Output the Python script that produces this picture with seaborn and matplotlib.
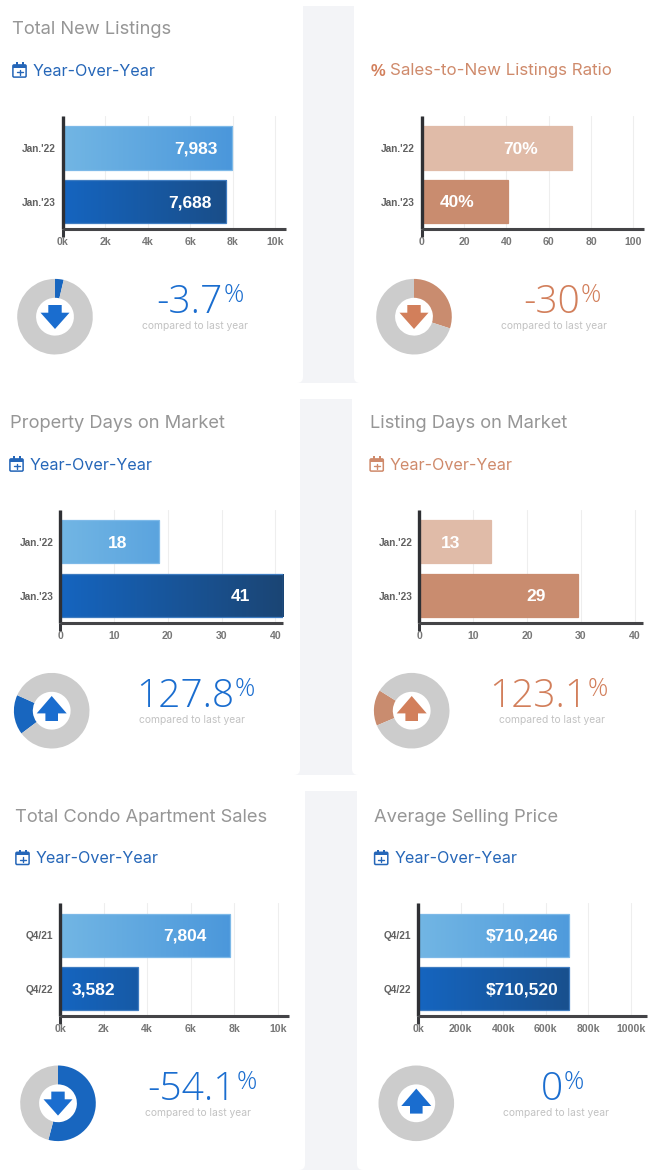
import numpy as np
import pandas as pd
import matplotlib
matplotlib.use("Agg")
import matplotlib.pyplot as plt
from matplotlib.colors import LinearSegmentedColormap
from matplotlib.patches import FancyBboxPatch, Polygon, Rectangle
import seaborn as sns

# ---------- data ----------
titles = ["Total New Listings", "", "Property Days on Market",
          "Listing Days on Market", "Total Condo Apartment Sales", "Average Selling Price"]
subtitles = ["Year-Over-Year", "Sales-to-New Listings Ratio", "Year-Over-Year",
             "Year-Over-Year", "Year-Over-Year", "Year-Over-Year"]
periods_jan = ["Jan.'22", "Jan.'23"]
periods_q4 = ["Q4/21", "Q4/22"]
categories = [periods_jan, periods_jan, periods_jan, periods_jan, periods_q4, periods_q4]
values_listings = [7983, 7688]
values_ratio = [70.9, 40.9]
values_property_days = [18.3, 41.5]
values_listing_days = [13.3, 29.4]
values_condo_sales = [7804, 3582]
values_price = [710246, 710520]
series = [values_listings, values_ratio, values_property_days,
          values_listing_days, values_condo_sales, values_price]
bar_labels = [["7,983", "7,688"], ["70%", "40%"], ["18", "41"],
              ["13", "29"], ["7,804", "3,582"], ["$710,246", "$710,520"]]
x_ticks = [[0, 2000, 4000, 6000, 8000, 10000], [0, 20, 40, 60, 80, 100], [0, 10, 20, 30, 40],
           [0, 10, 20, 30, 40], [0, 2000, 4000, 6000, 8000, 10000],
           [0, 200000, 400000, 600000, 800000, 1000000]]
x_tick_labels = [["0k", "2k", "4k", "6k", "8k", "10k"], ["0", "20", "40", "60", "80", "100"],
                 ["0", "10", "20", "30", "40"], ["0", "10", "20", "30", "40"],
                 ["0k", "2k", "4k", "6k", "8k", "10k"],
                 ["0k", "200k", "400k", "600k", "800k", "1000k"]]
change_text = ["-3.7", "-30", "127.8", "123.1", "-54.1", "0"]
donut_share = [3.7, 30.0, 17.0, 15.3, 54.1, 0.0]
donut_start = [0, 0, 233, 247, 0, 0]          # degrees clockwise from north
arrow_up = [False, False, True, True, False, True]
is_orange = [False, True, False, True, False, False]

# ---------- layout (pixels) ----------
W, H = 661, 1170
zero_px = [62.8, 421.8, 60.2, 419.3, 60.2, 418.3]
last_tick_px = [275.3, 633.3, 275.3, 634.7, 277.7, 630.7]
right_px = [286, 644, 283.3, 642.7, 288.7, 646.7]
top_px = [116, 116, 510, 510, 903.3, 903.3]
bottom_px = [229, 229, 622.7, 622.7, 1015.7, 1015.7]
label_px = [[196, 190], [521, 457.5], [117.8, 240.5], [450.5, 536.3], [185.3, 93.8], [522.5, 522.5]]
title_xy = [(12, 30), (370, 30), (10, 424), (370, 424), (15, 818), (374, 818)]
icon_xy = [(12.3, 62.3), (371, 62.3), (9.3, 456.3), (369.5, 456.3), (15.3, 849.7), (374, 849.7)]
sub_xy = [(33, 71), (390, 71), (30, 465), (390, 465), (36, 858.7), (394.3, 858.7)]
donut_xy = [(55, 316.7), (414, 316.7), (51.7, 710.7), (411.7, 710.7), (58, 1103.3), (416.3, 1103.3)]
num_xy = [(223, 313), (580, 313), (234, 707), (587, 707), (236, 1100), (563, 1100)]
cap_xy = [(194.7, 326), (553.7, 326), (192, 720), (552, 720), (197.8, 1112.7), (556, 1112.7)]
gaps = [(303, 354, 6, 383), (300, 352, 399, 775), (305, 357, 791, 1170)]

BLUE, ORANGE = "#1a6dcf", "#d27f5b"
TITLE_FONT = ["Inter", "DejaVu Sans"]
BAR_FONT = ["Liberation Sans", "DejaVu Sans"]

sns.set_theme(style="white")
plt.rcParams["font.family"] = TITLE_FONT

fig = plt.figure(figsize=(W / 100, H / 100), dpi=100, facecolor="white")


def px_axes(x0, y0, x1, y1, **kw):
    return fig.add_axes([x0 / W, 1 - y1 / H, (x1 - x0) / W, (y1 - y0) / H], **kw)


# background gaps and cards
bg = px_axes(0, 0, W, H, zorder=-1)
bg.set_xlim(0, W)
bg.set_ylim(H, 0)
bg.axis("off")
for x0, x1, y0, y1 in gaps:
    bg.add_patch(Rectangle((x0 - 8, y0), x1 - x0 + 16, y1 - y0, fc="#f3f4f7", ec="none"))
    for cx0, cx1 in ((x0 - 30, x0), (x1, x1 + 30)):
        bg.add_patch(FancyBboxPatch((cx0 + 6, y0), cx1 - cx0 - 12, y1 - y0 - 6,
                                    boxstyle="round,pad=6,rounding_size=6", fc="white", ec="none"))

# foreground layer for text and icons
fg = px_axes(0, 0, W, H, zorder=10)
fg.set_xlim(0, W)
fg.set_ylim(H, 0)
fg.axis("off")
fg.patch.set_alpha(0)

light_cmap = LinearSegmentedColormap.from_list("l", ["#72b6e4", "#3e8dd8"])
dark_cmap = LinearSegmentedColormap.from_list("d", ["#1565c0", "#1b4574"])
gradient = np.linspace(0, 1, 256).reshape(1, -1)


def calendar(x, y, c):
    fg.add_patch(FancyBboxPatch((x + 0.6, y + 2.6), 13.2, 12.2, boxstyle="round,pad=0,rounding_size=1.2",
                                fc="none", ec=c, lw=1.1))
    fg.add_patch(Rectangle((x + 0.6, y + 2.6), 13.2, 3.0, fc=c, ec="none"))
    for dx in (3.2, 9.2):
        fg.add_patch(Rectangle((x + dx, y), 2.2, 3.4, fc=c, ec="none"))
    fg.plot([x + 4.2, x + 10.2], [y + 10, y + 10], color=c, lw=1)
    fg.plot([x + 7.2, x + 7.2], [y + 7.4, y + 12.6], color=c, lw=1)


def arrow(cx, cy, up, c):
    if up:
        pts = [(0, -14.7), (15, 2.7), (6.3, 2.7), (6.3, 10.3), (-6.3, 10.3), (-6.3, 2.7), (-15, 2.7)]
    else:
        pts = [(0, 12.3), (14.5, -4), (6.7, -4), (6.7, -11.7), (-6.7, -11.7), (-6.7, -4), (-14.5, -4)]
    fg.add_patch(Polygon([(cx + a, cy + b) for a, b in pts], closed=True, fc=c, ec="none"))


for i, vals in enumerate(series):
    ticks = x_ticks[i]
    scale = (last_tick_px[i] - zero_px[i]) / ticks[-1]
    xmax = (right_px[i] - zero_px[i]) / scale
    ax = px_axes(zero_px[i], top_px[i], right_px[i], bottom_px[i])
    ax.patch.set_alpha(0)
    df = pd.DataFrame({"period": categories[i], "value": vals})
    pal = ["#e0bba8", "#c98c6f"] if is_orange[i] else ["#5ea6de", "#1a5ca8"]
    sns.barplot(data=df, y="period", x="value", hue="period", palette=pal, saturation=1,
                legend=False, width=0.8, ax=ax, zorder=2)
    ylim = (1.505, -0.595)
    ax.set_xlim(0, xmax)
    ax.set_ylim(*ylim)
    ax.set_xlabel("")
    ax.set_ylabel("")
    if not is_orange[i]:
        edges = ("#7db9e8", "#3f7cc0")
        for bar, cmap, ec in zip(ax.patches, (light_cmap, dark_cmap), edges):
            im = ax.imshow(gradient, cmap=cmap, aspect="auto", extent=(0, xmax, ylim[0], ylim[1]), zorder=3)
            im.set_clip_path(bar)
            bar.set(facecolor="none", edgecolor=ec, linewidth=0.9, zorder=4)
        ax.set_xlim(0, xmax)
        ax.set_ylim(*ylim)
    else:
        for bar, fc in zip(ax.patches, pal):
            bar.set(edgecolor=fc, linewidth=0.9)
    ax.set_xticks(ticks)
    ax.set_xticklabels(x_tick_labels[i], family=BAR_FONT, fontweight="bold", fontsize=7.6, color="#777777")
    for lab in ax.get_yticklabels():
        lab.set(family=BAR_FONT, fontweight="bold", fontsize=7.3, color="#616161")
    ax.tick_params(axis="y", length=0, pad=5)
    ax.tick_params(axis="x", length=0, pad=6)
    t0 = ax.xaxis.get_major_ticks()[0]
    t0.tick1line.set_visible(True)
    t0.tick1line.set_markersize(5.5)
    t0.tick1line.set_markeredgewidth(2.2)
    t0.tick1line.set_markeredgecolor("#37383c")
    ax.grid(axis="x", color="#eeeeee", lw=0.8)
    ax.grid(axis="y", visible=False)
    ax.set_axisbelow(True)
    sns.despine(ax=ax)
    ax.spines["left"].set(color="#2f3034", lw=2.4, zorder=5, capstyle="butt")
    ax.spines["bottom"].set(color="#444447", lw=2.2, zorder=5, capstyle="butt")
    for j, txt in enumerate(bar_labels[i]):
        ax.text((label_px[i][j] - zero_px[i]) / scale, j + 0.02, txt, ha="center", va="center",
                color="white", fontsize=12.5, fontweight="bold", family=BAR_FONT, zorder=6)

    accent = ORANGE if is_orange[i] else BLUE
    sub_c = "#cf8a6b" if is_orange[i] else "#2566b8"

    # heading and subheading
    if titles[i]:
        fg.text(*title_xy[i], titles[i], ha="left", va="center", fontsize=13.2, color="#969696")
    sub_size = 12.2 if subtitles[i].startswith("Sales") else 11.6
    fg.text(*sub_xy[i], subtitles[i], ha="left", va="center", fontsize=sub_size, color=sub_c)
    if subtitles[i].startswith("Sales"):
        fg.text(icon_xy[i][0], sub_xy[i][1], "%", ha="left", va="center", fontsize=12, color=ORANGE,
                fontweight="bold", family=BAR_FONT)
    else:
        calendar(*icon_xy[i], sub_c)

    # donut
    cx, cy = donut_xy[i]
    R = 37.8
    dax = px_axes(cx - R, cy - R, cx + R, cy + R)
    wedge_c = "#c98c6f" if is_orange[i] else "#1866bf"
    dax.pie([donut_share[i], 100 - donut_share[i]], colors=[wedge_c, "#cccccc"], radius=1,
            startangle=90 - donut_start[i], counterclock=False, wedgeprops={"width": 0.5, "linewidth": 0})
    dax.set_xlim(-1, 1)
    dax.set_ylim(-1, 1)
    arrow(cx, cy, arrow_up[i], accent)

    # change figure
    nx, ny = num_xy[i]
    fg.text(nx, ny, change_text[i], ha="right", va="baseline", fontsize=28, color=accent, fontweight="light",
            family=["Open Sans", "DejaVu Sans"])
    fg.text(nx + 1, ny - 11.3, "%", ha="left", va="baseline", fontsize=18, color=accent, fontweight="light",
            family=["Open Sans", "DejaVu Sans"])
    fg.text(*cap_xy[i], "compared to last year", ha="center", va="center", fontsize=7.4, color="#c2c2c2")

fig.savefig("out.png", dpi=100)
